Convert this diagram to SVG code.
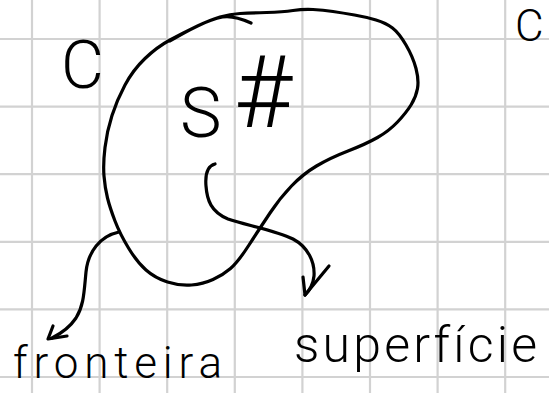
<svg xmlns="http://www.w3.org/2000/svg" width="549" height="393" viewBox="0 0 549 393">
<style>
.grid line{stroke:#d2d2d2;stroke-width:2.2}
.ink{fill:none;stroke:#000;stroke-width:3.2;stroke-linecap:round;stroke-linejoin:round}
.hand{font-family:Roboto,Inter,"DejaVu Sans",sans-serif;font-weight:300;fill:#000}
</style>
<rect width="549" height="393" fill="#fff"/>
<g id="grid" class="grid">
<line x1="32" y1="0" x2="32" y2="393"/>
<line x1="99.6" y1="0" x2="99.6" y2="393"/>
<line x1="167.2" y1="0" x2="167.2" y2="393"/>
<line x1="234.8" y1="0" x2="234.8" y2="393"/>
<line x1="302.4" y1="0" x2="302.4" y2="393"/>
<line x1="370" y1="0" x2="370" y2="393"/>
<line x1="437.6" y1="0" x2="437.6" y2="393"/>
<line x1="505.2" y1="0" x2="505.2" y2="393"/>
<line x1="0" y1="39" x2="549" y2="39"/>
<line x1="0" y1="106.6" x2="549" y2="106.6"/>
<line x1="0" y1="174.2" x2="549" y2="174.2"/>
<line x1="0" y1="241.8" x2="549" y2="241.8"/>
<line x1="0" y1="309.4" x2="549" y2="309.4"/>
<line x1="0" y1="377" x2="549" y2="377"/>
</g>
<g id="region">
<path class="ink" d="M251,23 Q233,15 222.5,17 Q212,19 197.5,26 Q183,33 170,40 Q157,47 145,58.5 Q133,70 125,85 Q117,100 112,115.5 Q107,131 105,147.5 Q103,164 104,176 Q105,188 107.5,198 Q110,208 115,221 Q120,234 128.5,248 Q137,262 146,270 Q155,278 167.5,282 Q180,286 191.5,285 Q203,284 213,279.5 Q223,275 230.5,268.5 Q238,262 249,245 Q260,228 270,213 Q280,198 291.5,186 Q303,174 316.5,166 Q330,158 348,151 Q366,144 377.5,137.5 Q389,131 397.5,122 Q406,113 411,105 Q416,97 417.5,88.5 Q419,80 416,68.5 Q413,57 406,45 Q399,33 392.5,28 Q386,23 376,20 Q366,17 354.5,15 Q343,13 333,11.5 Q323,10 313,9.5 Q303,9 293,10.5 Q283,12 266.5,12.5 Q250,13 240,13.5 Q230,14 220,17 Q210,20 197.5,26 Q185,32 170,41"/>
<text class="hand" x="180" y="137" font-size="70">S<tspan x="234" y="127" font-size="100">#</tspan></text>
</g>
<g id="label-C">
<text class="hand" x="61" y="88" font-size="66">C</text>
</g>
<g id="label-C2">
<text class="hand" x="515" y="41" font-size="44">C</text>
</g>
<g id="connectors">
<path class="ink" d="M119,232 C100,236 88,252 86,272 C84,292 84,305 76,318 C70,327 62,333 52,338"/>
<path class="ink" d="M53,326 L48,339 L67,336"/>
<path class="ink" d="M215,164 C207,166 205,174 206,186 C207,200 211,212 228,219 C245,225 275,230 293,239 C308,247 315,262 314,276 C313,286 309,291 305,295"/>
<path class="ink" d="M329,266 L305,295 L303,277"/>
</g>
<g id="label-fronteira">
<text class="hand" x="13" y="378" font-size="44" textLength="209" lengthAdjust="spacing">fronteira</text>
</g>
<g id="label-superficie">
<text class="hand" x="294" y="362" font-size="50" textLength="243" lengthAdjust="spacing">superfície</text>
</g>
</svg>
